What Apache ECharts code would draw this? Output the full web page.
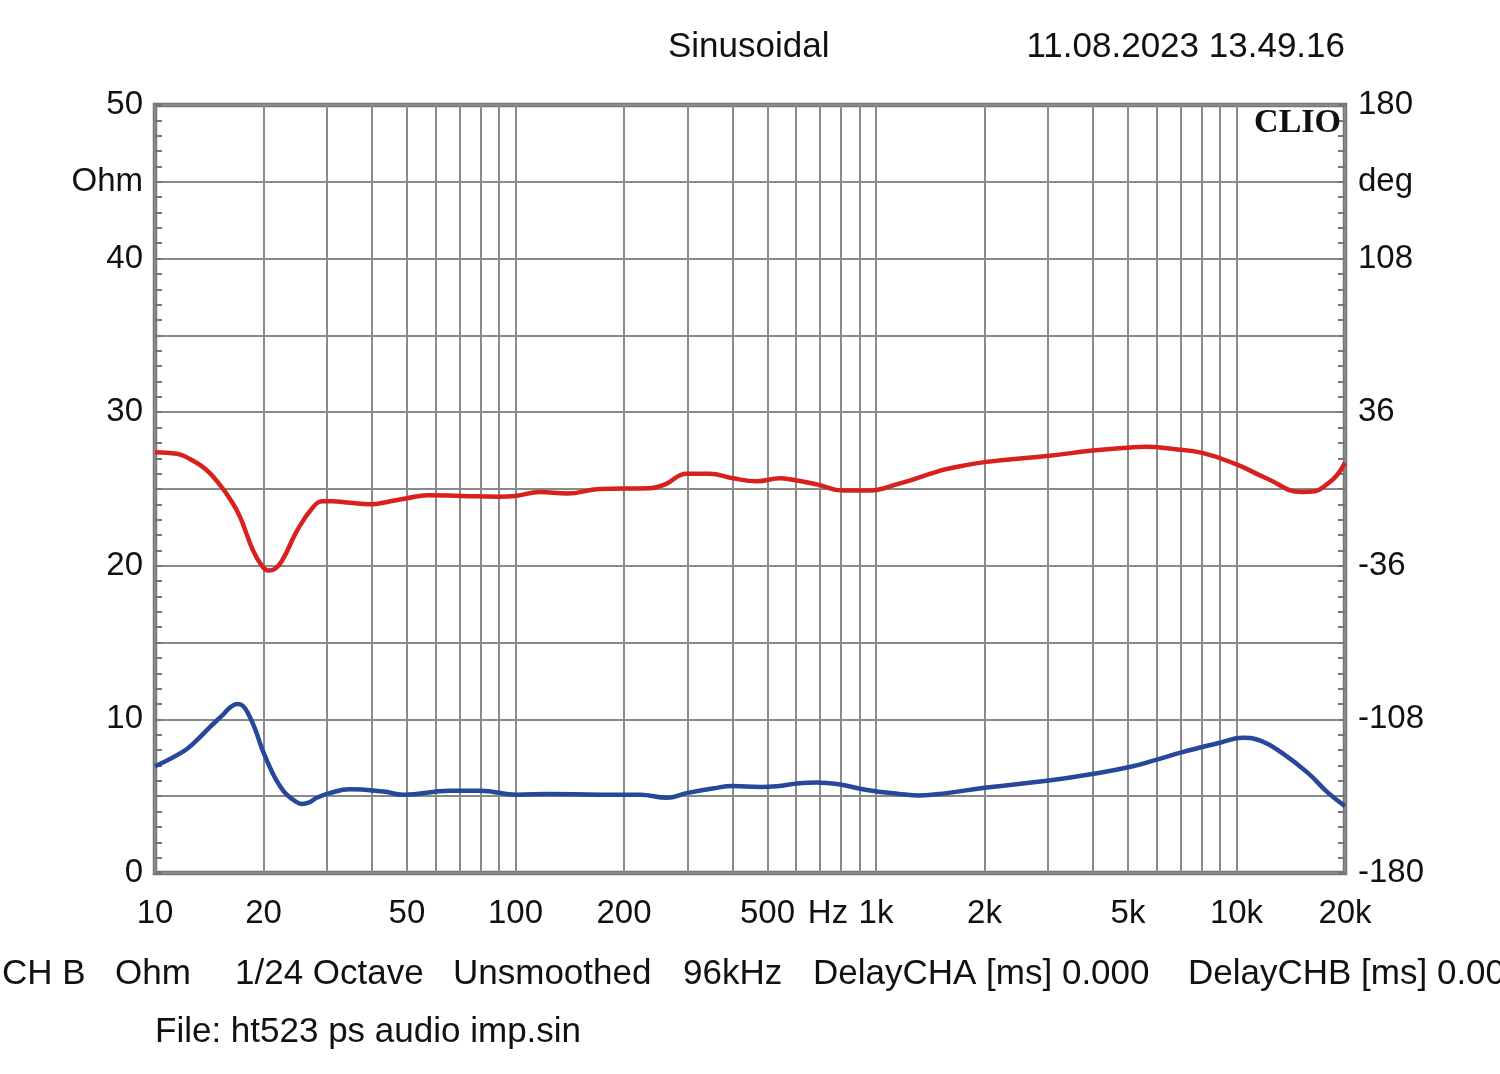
<!DOCTYPE html>
<html><head><meta charset="utf-8">
<script src="https://cdn.jsdelivr.net/npm/echarts@6/dist/echarts.min.js"></script>
<style>html,body{margin:0;padding:0;background:#fff}#c{width:1500px;height:1074px}</style>
</head><body><div id="c"></div>
<script>
// Frequency grid lines (Hz)
const gridFreqs = [10,20,30,40,50,60,70,80,90,100,200,300,400,500,600,700,800,900,1000,2000,3000,4000,5000,6000,7000,8000,9000,10000,20000];
// X tick labels
const xLabelFreqs = [10,20,50,100,200,500,736,1000,2000,5000,10000,20000];
const xLabelTexts = ['10','20','50','100','200','500','Hz','1k','2k','5k','10k','20k'];
// Right axis labels
const rightLabels = {'180':'180','144':'deg','108':'108','36':'36','-36':'-36','-108':'-108','-180':'-180'};

// Red curve
const redFreq = [10,11.5,12.5,13.8,15.1,16.2,17.2,18.7,19.8,20.6,21.5,22.6,24.8,27.4,29.2,31,34.7,39.5,45,50,57,71,90,100,117,139,171,236,260,298,345,401,467,542,588,685,812,945,1160,1440,1570,2000,2980,3990,5050,5600,6680,8040,10000,12100,15200,16500,17800,19000,20000];
const redVal  = [27.4,27.3,26.95,26.3,25.3,24.3,23.2,21.0,20.0,19.7,19.8,20.4,22.3,23.8,24.2,24.2,24.1,24.0,24.2,24.4,24.6,24.55,24.5,24.55,24.8,24.7,25.0,25.05,25.3,26.0,26.0,25.7,25.5,25.7,25.6,25.3,24.9,24.9,25.35,26.05,26.3,26.75,27.15,27.5,27.7,27.75,27.6,27.35,26.6,25.7,24.8,24.85,25.3,25.9,26.7];

// Blue curve
const blueFreq = [10,11.96,13,14.2,15.5,16.2,16.9,17.5,18.2,19,19.8,21.2,22.3,23.2,24.4,25.5,26.8,28.1,30.5,34.7,43,48.8,65.7,79.8,101,124,171,222,263,298,352,401,477,530,612,685,780,945,1160,1320,1570,2000,2980,3990,5050,5950,7040,8040,9050,10400,11700,13400,15800,17800,20000];
const blueVal  = [6.95,7.9,8.6,9.5,10.35,10.8,11.0,10.9,10.3,9.3,8.1,6.5,5.6,5.1,4.7,4.5,4.6,4.9,5.2,5.45,5.3,5.1,5.35,5.35,5.1,5.15,5.1,5.1,4.9,5.2,5.5,5.66,5.6,5.65,5.85,5.9,5.8,5.4,5.15,5.05,5.2,5.55,6.0,6.45,6.9,7.35,7.85,8.2,8.5,8.8,8.6,7.8,6.5,5.3,4.35];

const FONT = '"Liberation Sans", Arial, sans-serif';
const GRID_COLOR = '#8a8a8a';
const FRAME = '#767676';

const chart = echarts.init(document.getElementById('c'));
chart.setOption({
  animation: false,
  backgroundColor: '#fff',
  grid: {left: 155, right: 155, top: 105, bottom: 201, show: true, borderColor: FRAME, borderWidth: 4.5, backgroundColor: 'transparent'},
  xAxis: {
    type: 'log', logBase: 10, min: 10, max: 20000,
    axisLine: {show: false},
    axisTick: {show: false, customValues: gridFreqs},
    splitLine: {show: true, lineStyle: {color: GRID_COLOR, width: 2}},
    axisLabel: {
      customValues: xLabelFreqs,
      color: '#111', fontFamily: FONT, fontSize: 33, margin: 24,
      formatter: function (v) {
        for (let i = 0; i < xLabelFreqs.length; i++) {
          if (Math.abs(xLabelFreqs[i] - v) / xLabelFreqs[i] < 0.01) return xLabelTexts[i];
        }
        return '';
      }
    }
  },
  yAxis: [{
    type: 'value', min: 0, max: 50, interval: 5,
    axisLine: {show: false},
    axisTick: {show: true, inside: true, length: 7, lineStyle: {color: FRAME, width: 2}},
    minorTick: {show: true, splitNumber: 5, length: 7, lineStyle: {color: FRAME, width: 2}},
    splitLine: {show: true, lineStyle: {color: GRID_COLOR, width: 2}},
    axisLabel: {
      color: '#111', fontFamily: FONT, fontSize: 33, margin: 12,
      formatter: function (v) { if (v % 10 === 0) return String(v); if (v === 45) return 'Ohm'; return ''; }
    }
  }, {
    type: 'value', min: -180, max: 180, interval: 36, position: 'right',
    axisLine: {show: false},
    axisTick: {show: true, inside: true, length: 7, lineStyle: {color: FRAME, width: 2}},
    minorTick: {show: true, splitNumber: 5, length: 7, lineStyle: {color: FRAME, width: 2}},
    splitLine: {show: false},
    axisLabel: {
      color: '#111', fontFamily: FONT, fontSize: 33, margin: 13, align: 'left',
      formatter: function (v) { const k = String(Math.round(v)); return rightLabels[k] || ''; }
    }
  }],
  series: [{
    type: 'line', yAxisIndex: 0, showSymbol: false, smooth: 0.45,
    data: redFreq.map((f, i) => [f, redVal[i]]),
    lineStyle: {color: '#d8211f', width: 4.5}, itemStyle: {color: '#d8211f'}, z: 5
  }, {
    type: 'line', yAxisIndex: 0, showSymbol: false, smooth: 0.45,
    data: blueFreq.map((f, i) => [f, blueVal[i]]),
    lineStyle: {color: '#27479b', width: 4.5}, itemStyle: {color: '#27479b'}, z: 5
  }],
  graphic: [
    {type: 'text', left: 668, top: 30, style: {text: 'Sinusoidal', font: '35px ' + FONT, fill: '#111'}},
    {type: 'text', right: 155, top: 30, style: {text: '11.08.2023 13.49.16', font: '35px ' + FONT, fill: '#111'}},
    {type: 'text', right: 159, top: 106, z: 10, style: {text: 'CLIO', font: 'bold 34px "Liberation Serif", "Times New Roman", serif', fill: '#111'}},
    {type: 'text', left: 2, top: 957, style: {text: 'CH B', font: '35px ' + FONT, fill: '#111'}},
    {type: 'text', left: 115, top: 957, style: {text: 'Ohm', font: '35px ' + FONT, fill: '#111'}},
    {type: 'text', left: 235, top: 957, style: {text: '1/24 Octave', font: '35px ' + FONT, fill: '#111'}},
    {type: 'text', left: 453, top: 957, style: {text: 'Unsmoothed', font: '35px ' + FONT, fill: '#111'}},
    {type: 'text', left: 683, top: 957, style: {text: '96kHz', font: '35px ' + FONT, fill: '#111'}},
    {type: 'text', left: 813, top: 957, style: {text: 'DelayCHA [ms] 0.000', font: '35px ' + FONT, fill: '#111'}},
    {type: 'text', left: 1188, top: 957, style: {text: 'DelayCHB [ms] 0.000', font: '35px ' + FONT, fill: '#111'}},
    {type: 'text', left: 155, top: 1015, style: {text: 'File: ht523 ps audio imp.sin', font: '35px ' + FONT, fill: '#111'}}
  ]
});
</script></body></html>
